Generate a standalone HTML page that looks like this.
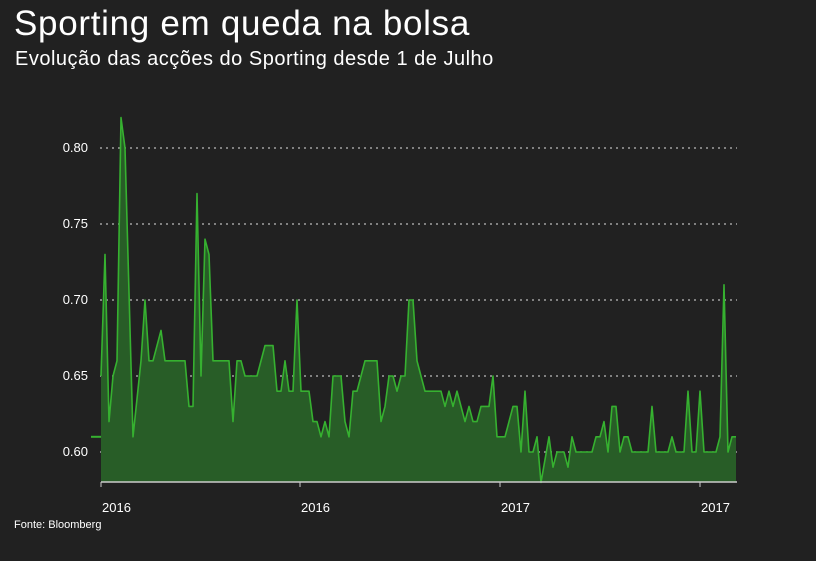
<!DOCTYPE html>
<html><head><meta charset="utf-8"><style>
html,body{margin:0;padding:0;background:#212121;width:816px;height:561px;overflow:hidden;font-family:"Liberation Sans",sans-serif;color:#fff}
h1{position:absolute;left:14px;top:4px;margin:0;font-size:35px;font-weight:normal;letter-spacing:0.7px}
h2{position:absolute;left:15px;top:48px;margin:0;font-size:20px;font-weight:normal;letter-spacing:0.5px}
#src{position:absolute;left:14px;top:519px;font-size:11px}
</style></head><body>
<h1>Sporting em queda na bolsa</h1>
<h2>Evolução das acções do Sporting desde 1 de Julho</h2>
<div id="src">Fonte: Bloomberg</div>
<svg id="c" width="816" height="561" style="position:absolute;left:0;top:0"></svg>
<script>
const days=[0,4,8,12,16,20,24,32,40,44,48,52,60,64,84,88,92,96,100,104,108,112,128,132,136,140,144,156,164,172,176,180,184,188,192,196,200,208,212,216,220,224,228,232,240,244,248,252,256,264,276,280,284,288,292,296,300,304,308,312,316,324,340,344,348,352,356,364,368,372,376,380,388,392,396,404,412,416,420,424,428,432,436,440,448,452,456,463,467,471,475,491,495,499,503,507,511,515,519,523,527,531,547,551,555,567,571,575,583,587,591,595,599,603,615,619,623,627,631,635];
const prices=[0.65,0.73,0.62,0.65,0.66,0.82,0.80,0.61,0.66,0.70,0.66,0.66,0.68,0.66,0.66,0.63,0.63,0.77,0.65,0.74,0.73,0.66,0.66,0.62,0.66,0.66,0.65,0.65,0.67,0.67,0.64,0.64,0.66,0.64,0.64,0.70,0.64,0.64,0.62,0.62,0.61,0.62,0.61,0.65,0.65,0.62,0.61,0.64,0.64,0.66,0.66,0.62,0.63,0.65,0.65,0.64,0.65,0.65,0.70,0.70,0.66,0.64,0.64,0.63,0.64,0.63,0.64,0.62,0.63,0.62,0.62,0.63,0.63,0.65,0.61,0.61,0.63,0.63,0.60,0.64,0.60,0.60,0.61,0.58,0.61,0.59,0.60,0.60,0.59,0.61,0.60,0.60,0.61,0.61,0.62,0.60,0.63,0.63,0.60,0.61,0.61,0.60,0.60,0.63,0.60,0.60,0.61,0.60,0.60,0.64,0.60,0.60,0.64,0.60,0.60,0.61,0.71,0.60,0.61,0.61];
const yTicks=[0.60,0.65,0.70,0.75,0.80];
const xTickDays=[0,199,399,599];
const xTickLabels=["2016","2016","2017","2017"];
const startPrice=0.61;
const svg=document.getElementById('c');const NS='http://www.w3.org/2000/svg';
const X=d=>101+d*(635/635);
const Y=v=>452-(v-0.6)*1520;
const base=482;
function mk(t,a){const e=document.createElementNS(NS,t);for(const k in a)e.setAttribute(k,a[k]);svg.appendChild(e);return e;}
yTicks.forEach(v=>{
 const l=mk('line',{x1:100,x2:737,y1:Y(v),y2:Y(v),stroke:'#bbb','stroke-width':1.2,'stroke-dasharray':'2,4'});
 
 
 const t=mk('text',{x:88,y:Y(v)+4,'text-anchor':'end',fill:'#fff','font-size':13,'font-family':'Liberation Sans'});
 t.textContent=v.toFixed(2);
 
 
});
let pts=days.map((d,i)=>X(d)+','+Y(prices[i])).join(' ');
const area=mk('polygon',{points:X(days[0])+','+base+' '+pts+' '+X(days[days.length-1])+','+base,fill:'#285d27'});


const line=mk('polyline',{points:pts,fill:'none',stroke:'#36b130','stroke-width':1.6,'stroke-linejoin':'round'});


const lead=mk('line',{x1:91,x2:X(0),y1:Y(startPrice),y2:Y(startPrice),stroke:'#36b130','stroke-width':2});


const ax=mk('line',{x1:101,x2:737,y1:base,y2:base,stroke:'#ccc','stroke-width':1.5});


xTickDays.forEach((d,i)=>{
 const tk=mk('line',{x1:X(d),x2:X(d),y1:base,y2:base+5,stroke:'#ccc','stroke-width':1});
 
 
 const t=mk('text',{x:X(d)+1,y:512,fill:'#fff','font-size':13,'font-family':'Liberation Sans'});
 t.textContent=xTickLabels[i];
 
 
});
</script>
</body></html>
